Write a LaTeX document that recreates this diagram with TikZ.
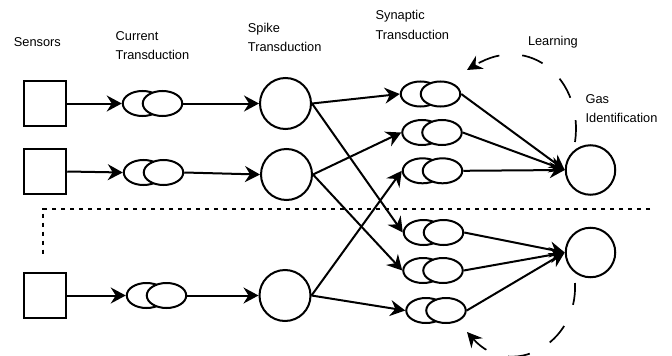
\documentclass[tikz,border=0pt]{standalone}
\usepackage{fontspec}
\setmainfont{Liberation Sans}
\usetikzlibrary{arrows.meta,shapes.geometric}
\tikzset{
  lw/.style={line width=2pt},
  sensor/.style={draw,lw,rectangle,minimum width=42.5pt,minimum height=45.5pt,inner sep=0pt},
  ell/.style={draw,lw,ellipse,fill=white,minimum width=39.5pt,minimum height=25pt,inner sep=0pt},
  neuron/.style={draw,lw,circle,minimum size=51pt,inner sep=0pt},
  gas/.style={draw,lw,circle,minimum size=49.5pt,inner sep=0pt},
  conn/.style={lw,-{Stealth[length=15pt,width=16pt,inset=5pt]}},
  sep/.style={lw,dash pattern=on 4.5pt off 4.5pt},
  learn/.style={line width=1.7pt,dash pattern=on 22pt off 23pt,-{Stealth[length=15pt,width=15pt,inset=5pt]}},
  lbl/.style={anchor=base west,inner sep=0pt,font=\fontsize{12.8pt}{15pt}\selectfont}
}
\begin{document}
\begin{tikzpicture}[x=1pt,y=-1pt]
\useasboundingbox (0,0) rectangle (672,356);
% labels
\node[lbl] (lsen) at (13.7,46.5) {Sensors};
\node[lbl] (lcur1) at (115.5,40.5) {Current};
\node[lbl] (lcur2) at (115.5,59.2) {Transduction};
\node[lbl] (lspk1) at (247.7,32.3) {Spike};
\node[lbl] (lspk2) at (247.7,51) {Transduction};
\node[lbl] (lsyn1) at (375.4,19.5) {Synaptic};
\node[lbl] (lsyn2) at (375.4,39.3) {Transduction};
\node[lbl] (llrn) at (527.8,45.5) {Learning};
\node[lbl] (lgas1) at (585.4,103.5) {Gas};
\node[lbl] (lgas2) at (585.4,122.5) {Identification};
% sensors
\node[sensor] (sq1) at (45,103.5) {};
\node[sensor] (sq2) at (45,171.5) {};
\node[sensor] (sq3) at (45.2,295.5) {};
% current transduction
\node[ell] (c1a) at (142.5,103.5) {};
\node[ell] (c1b) at (162.5,103.5) {};
\node[ell] (c2a) at (143.5,172.5) {};
\node[ell] (c2b) at (163.5,172.5) {};
\node[ell] (c3a) at (146.5,295.5) {};
\node[ell] (c3b) at (166.5,295.5) {};
% spike transduction
\node[neuron] (sp1) at (285.5,103.5) {};
\node[neuron] (sp2) at (286.5,174.5) {};
\node[neuron] (sp3) at (285,295.5) {};
% synaptic transduction
\node[ell] (s1a) at (420.5,94) {};
\node[ell] (s1b) at (440.5,94) {};
\node[ell] (s2a) at (422,132.5) {};
\node[ell] (s2b) at (442,132.5) {};
\node[ell] (s3a) at (422.5,170.8) {};
\node[ell] (s3b) at (442.5,170.8) {};
\node[ell] (s4a) at (423.5,232.5) {};
\node[ell] (s4b) at (443.5,232.5) {};
\node[ell] (s5a) at (423,270.5) {};
\node[ell] (s5b) at (443,270.5) {};
\node[ell] (s6a) at (426,310.5) {};
\node[ell] (s6b) at (446,310.5) {};
% gas identification
\node[gas] (g1) at (590.5,170) {};
\node[gas] (g2) at (590.5,252.5) {};
% separator
\coordinate (dl) at (43,208.7);
\coordinate (dr) at (650,208.7);
\coordinate (dd) at (43,258);
\draw[sep] (dr) -- (dl) -- (dd);
% connectors
\draw[conn] (sq1.east) -- (c1a.west);
\draw[conn] (sq2.east) -- (c2a.west);
\draw[conn] (sq3.east) -- (c3a.west);
\draw[conn] (c1b.east) -- (sp1.west);
\draw[conn] (c2b.east) -- (sp2.west);
\draw[conn] (c3b.east) -- (sp3.west);
\draw[conn] (sp1.east) -- (s1a.west);
\draw[conn] (sp1.east) -- (s4a.west);
\draw[conn] (sp2.east) -- (s2a.west);
\draw[conn] (sp2.east) -- (s5a.west);
\draw[conn] (sp3.east) -- (s3a.west);
\draw[conn] (sp3.east) -- (s6a.west);
\draw[conn] (s1b.east) -- (g1.west);
\draw[conn] (s2b.east) -- (g1.west);
\draw[conn] (s3b.east) -- (g1.west);
\draw[conn] (s4b.east) -- (g2.west);
\draw[conn] (s5b.east) -- (g2.west);
\draw[conn] (s6b.east) -- (g2.west);
% learning arcs
\coordinate (lt0) at (575,142);
\coordinate (lt1) at (467,70);
\coordinate (lb0) at (575,283);
\coordinate (lb1) at (467,332);
\draw[learn] (lt0) .. controls (584,80) and (530,32) .. (lt1);
\draw[learn] (lb0) .. controls (578,345) and (510,380) .. (lb1);
\end{tikzpicture}
\end{document}
